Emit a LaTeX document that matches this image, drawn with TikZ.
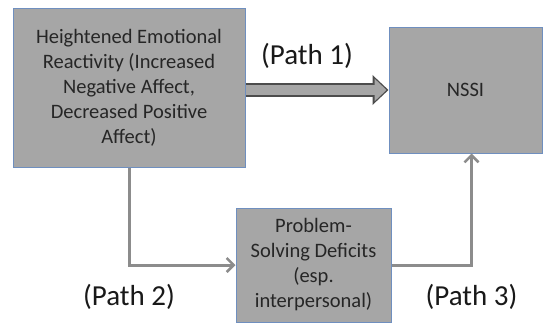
\documentclass[tikz,border=0pt]{standalone}
\usepackage{fontspec}
\setmainfont{Carlito}
\usepackage{tikz}
\usetikzlibrary{arrows.meta, positioning, calc}
\definecolor{boxgray}{HTML}{A6A6A6}
\definecolor{boxline}{HTML}{6F8FBF}
\definecolor{linegray}{HTML}{8C8C8C}
\definecolor{textgray}{HTML}{262626}

\begin{document}
\begin{tikzpicture}[
    x=1pt, y=1pt,
    factor/.style={rectangle, draw=boxline, line width=1pt, fill=boxgray, align=center, text=textgray, inner sep=2pt, font=\fontsize{20.5}{25}\selectfont},
    pathline/.style={draw=linegray, line width=3pt, -{Straight Barb[length=7pt, width=14pt, line width=2.5pt]}},
    bigarrow/.style={line width=10pt, draw=boxgray, -{Triangle[length=12pt, width=22pt]}, shorten >=2pt,
        preaction={draw=black!70, line width=14pt, -{Triangle[length=16pt, width=29pt]}, shorten >=0pt}},
    pathlabel/.style={font=\fontsize{29}{34}\selectfont, text=black!90}
]
    \useasboundingbox (0,0) rectangle (543,-324);

    % Components
    \node[factor, minimum width=232pt, minimum height=159pt] (emo) at (129,-87.5)
        {Heightened Emotional\\Reactivity (Increased\\Negative Affect,\\Decreased Positive\\Affect)};
    \node[factor, minimum width=153pt, minimum height=126pt] (nssi) at (465.5,-90) {NSSI};
    \node[factor, minimum width=155pt, minimum height=114pt] (prob) at (313.5,-265)
        {Problem-\\Solving Deficits\\(esp.\\interpersonal)};

    % Connections
    \draw[bigarrow] (emo.east |- nssi) -- (nssi.west)
        node[pathlabel, pos=0.43, yshift=34pt] (p1) {(Path 1)};
    \draw[pathline] (emo.south) |- (prob.west)
        node[pathlabel, pos=0.5, yshift=-32pt] (p2) {(Path 2)};
    \draw[pathline] (prob.east) -| ([xshift=6pt]nssi.south)
        node[pathlabel, pos=0.5, yshift=-32pt] (p3) {(Path 3)};

\end{tikzpicture}
\end{document}
